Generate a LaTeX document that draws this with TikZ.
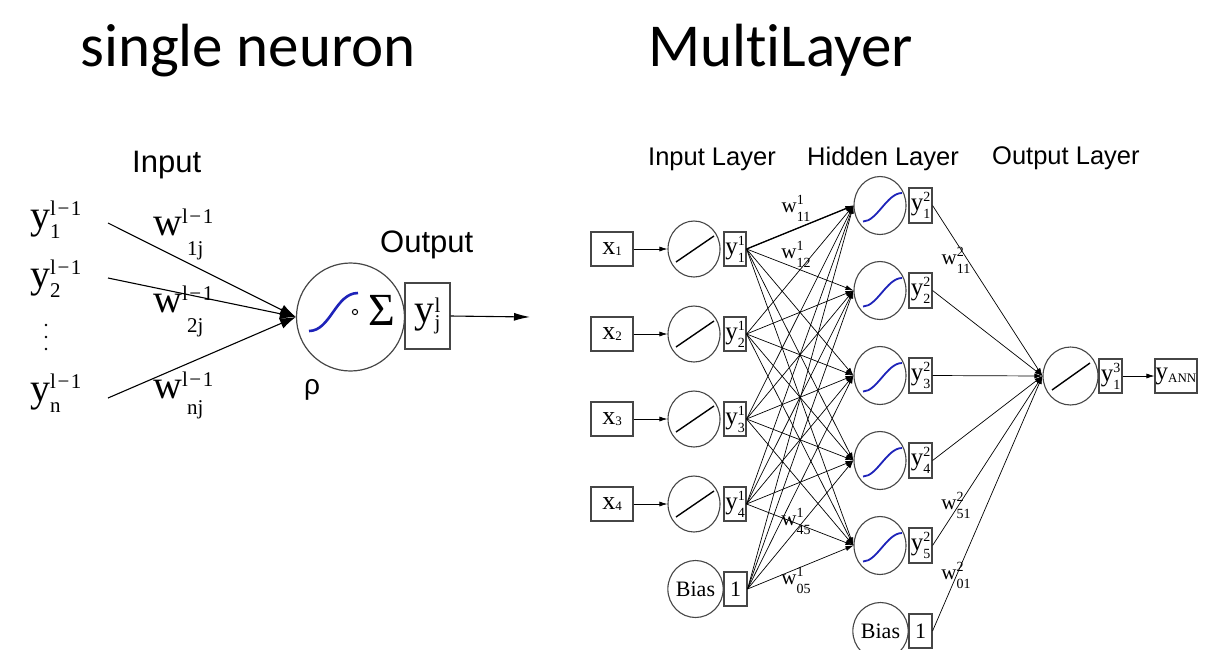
\documentclass[tikz,border=0pt]{standalone}
\usepackage{fontspec}
\setmainfont{Liberation Serif}
\newfontfamily\sansf{Liberation Sans}
\newfontfamily\titlef[Ligatures={NoCommon}]{Carlito}
\usetikzlibrary{shapes.geometric,arrows.meta}
\definecolor{sigblue}{RGB}{30,35,185}
\definecolor{edgegray}{RGB}{70,70,70}
\newcommand\fsz[1]{\fontsize{#1}{#1}\selectfont}
% base letter with stacked super- and subscript:
% #1 base, #2 sup, #3 sub, #4 script size, #5 sup raise, #6 sub drop
\newcommand\spsb[6]{#1{\fsz{#4}\setbox0\hbox{#2}\setbox2\hbox{#3}%
  \ifdim\wd0>\wd2 \wd2=\wd0 \fi\rlap{\raise#5\box0}\lower#6\box2}}
% layer index "l-1" with spaced minus
\newcommand\lmo{l\kern1.5pt−\kern1.5pt1}

\begin{document}
\begin{tikzpicture}[x=1pt,y=-1pt,
  ttl/.style={font=\titlef\fsz{61}, anchor=base west, inner sep=0},
  laylab/.style={font=\sansf\fsz{25.5}, anchor=base west, inner sep=0},
  sanslab/.style={font=\sansf\fsz{31}, anchor=base west, inner sep=0},
  biglab/.style={font=\fsz{40}, anchor=base west, inner sep=0},
  wlab/.style={font=\fsz{21}, inner sep=0},
  neuron/.style={ellipse, draw=edgegray, line width=1.1pt, minimum width=52pt, minimum height=56pt, inner sep=0},
  valbox/.style={rectangle, draw=edgegray, line width=1.1pt, inner sep=0, minimum width=23pt, minimum height=34pt, font=\fsz{25}},
  inbox/.style={rectangle, draw=edgegray, line width=1.1pt, inner sep=0, minimum width=42pt, minimum height=34pt, font=\fsz{26}},
  conn/.style={line width=0.7pt, -{Latex[length=8pt,width=5pt]}},
  bigconn/.style={line width=1.1pt, -{Latex[length=16pt,width=11pt]}},
  sig/.style={draw=sigblue, line width=1.8pt},
  lin/.style={draw=black, line width=1.4pt}]
\useasboundingbox (0,0) rectangle (1228,649);

% ---------- titles ----------
\node[ttl] (t1) at (80,66) {single neuron};
\node[ttl] (t2) at (648,66) {MultiLayer};

% ---------- single neuron ----------
\node[sanslab] (inlab) at (132,172) {Input};
\node[sanslab] (outlab) at (380,252) {Output};

\node[circle, draw=edgegray, line width=1.2pt, minimum size=108pt, inner sep=0] (nn) at (350.5,317) {};
\draw[sig, line width=2.6pt] ([shift={(-41.5,14)}]nn.center) .. controls ([shift={(-20,14)}]nn.center) and ([shift={(-15,-24)}]nn.center) .. ([shift={(7.5,-24)}]nn.center);
\draw[line width=1pt] ([shift={(4.5,-5)}]nn.center) circle (2.6);
\node[font=\fsz{46}, inner sep=0] (sum) at (381.5,310) {Σ};
\node[rectangle, draw=edgegray, line width=1.2pt, inner sep=0, minimum width=45pt, minimum height=66pt, font=\fsz{40}] (yo) at (427.5,316) {\spsb{y}{l}{j}{21}{10pt}{7pt}};
\node[font=\sansf\fsz{28}, anchor=base west, inner sep=0] (rho) at (304,394) {ρ};

\node[biglab] (ly1) at (30,228) {\spsb{y}{\lmo}{1}{21}{13pt}{10pt}};
\node[biglab] (ly2) at (30,287) {\spsb{y}{\lmo}{2}{21}{13pt}{10pt}};
\node[biglab] (lyn) at (30,401) {\spsb{y}{\lmo}{n}{21}{13pt}{11pt}};
\foreach \d in {325,337,349} \fill (46,\d) circle (1.3);

\node[biglab] (lw1) at (153,235) {\spsb{w}{\lmo}{\kern5pt 1j}{21}{12pt}{20pt}};
\node[biglab] (lw2) at (153,312) {\spsb{w}{\lmo}{\kern5pt 2j}{21}{12pt}{20pt}};
\node[biglab] (lwn) at (153,398) {\spsb{w}{\lmo}{\kern5pt nj}{21}{12pt}{16pt}};

\coordinate (a1) at (108,223);
\coordinate (a2) at (108,278);
\coordinate (an) at (108,398);
\coordinate (oend) at (530,317);
\draw[bigconn] (a1) -- (nn.west);
\draw[bigconn] (a2) -- (nn.west);
\draw[bigconn] (an) -- (nn.west);
\draw[line width=1.1pt, -{Latex[length=16pt,width=8pt]}] (yo.east) -- (oend);

% ---------- multilayer network ----------
\node[laylab] (l1) at (648,165) {Input Layer};
\node[laylab] (l2) at (807,165) {Hidden Layer};
\node[laylab] (l3) at (992,164) {Output Layer};

% input layer
\foreach \i/\yy in {1/249,2/334,3/419,4/504} {
  \node[inbox] (x\i) at (612,\yy) {\spsb{x}{}{\i}{13}{0pt}{1pt}};
  \node[neuron] (in\i) at (694,\yy) {};
  \node[valbox, minimum width=22pt] (iy\i) at (735,\yy) {\spsb{y}{1}{\i}{14}{9pt}{8pt}};
  \draw[conn] (x\i) -- (in\i.west);
  \draw[lin] ([shift={(-18,13)}]in\i.center) -- ([shift={(20,-13)}]in\i.center);
}
\node[neuron, minimum width=55pt, minimum height=57pt, font=\fsz{22}] (b1) at (695.5,589) {Bias};
\node[valbox, font=\fsz{22}] (b1v) at (735.5,589) {1};

% hidden layer
\foreach \k/\yy in {1/205.5,2/290.5,3/375.5,4/460.5,5/545.5} {
  \node[neuron, minimum height=58pt] (h\k) at (880,\yy) {};
  \node[valbox, minimum height=35pt] (hy\k) at (920.5,\yy) {\spsb{y}{2}{\k}{14}{9pt}{8pt}};
  \draw[sig] ([shift={(-17,16)}]h\k.center) .. controls ([shift={(-3,16)}]h\k.center) and ([shift={(7,-12.5)}]h\k.center) .. ([shift={(22,-12.5)}]h\k.center);
}
\node[neuron, minimum width=55pt, minimum height=57pt, font=\fsz{22}] (b2) at (880.5,631) {Bias};
\node[valbox, font=\fsz{22}] (b2v) at (920.5,631) {1};

% output layer
\node[neuron, minimum width=55pt, minimum height=58pt] (o1) at (1070.5,376) {};
\draw[lin] ([shift={(-18.5,14)}]o1.center) -- ([shift={(19.5,-13)}]o1.center);
\node[valbox] (oy) at (1110.5,376) {\spsb{y}{3}{1}{14}{9pt}{8pt}};
\node[inbox, font=\fsz{25}] (yann) at (1176,376) {y{\fsz{13}\lower3pt\hbox{ANN}}};
\draw[conn] (oy.east) -- (yann.west);

% weights: input -> hidden
\foreach \i in {1,...,4} \foreach \k in {1,...,5} \draw[conn] (iy\i.east) -- (h\k.west);
\foreach \k in {1,...,5} \draw[conn] (b1v.east) -- (h\k.west);
\draw[conn, line width=1.3pt] (iy1.east) -- (h1.west);

% weights: hidden -> output
\foreach \k in {1,...,5} \draw[conn] (hy\k.east) -- (o1.west);
\draw[conn] (b2v.east) -- (o1.west);

% weight labels
\node[wlab] (w111) at (796,208.5) {\spsb{w}{1}{11}{14}{8pt}{9pt}};
\node[wlab] (w112) at (796,254) {\spsb{w}{1}{12}{14}{8pt}{9pt}};
\node[wlab] (w145) at (796,521) {\spsb{w}{1}{45}{14}{8pt}{9pt}};
\node[wlab] (w105) at (796,580) {\spsb{w}{1}{05}{14}{8pt}{9pt}};
\node[wlab] (w211) at (956,260) {\spsb{w}{2}{11}{14}{8pt}{9pt}};
\node[wlab] (w251) at (956,505) {\spsb{w}{2}{51}{14}{8pt}{9pt}};
\node[wlab] (w201) at (956,575) {\spsb{w}{2}{01}{14}{8pt}{9pt}};
\end{tikzpicture}
\end{document}
